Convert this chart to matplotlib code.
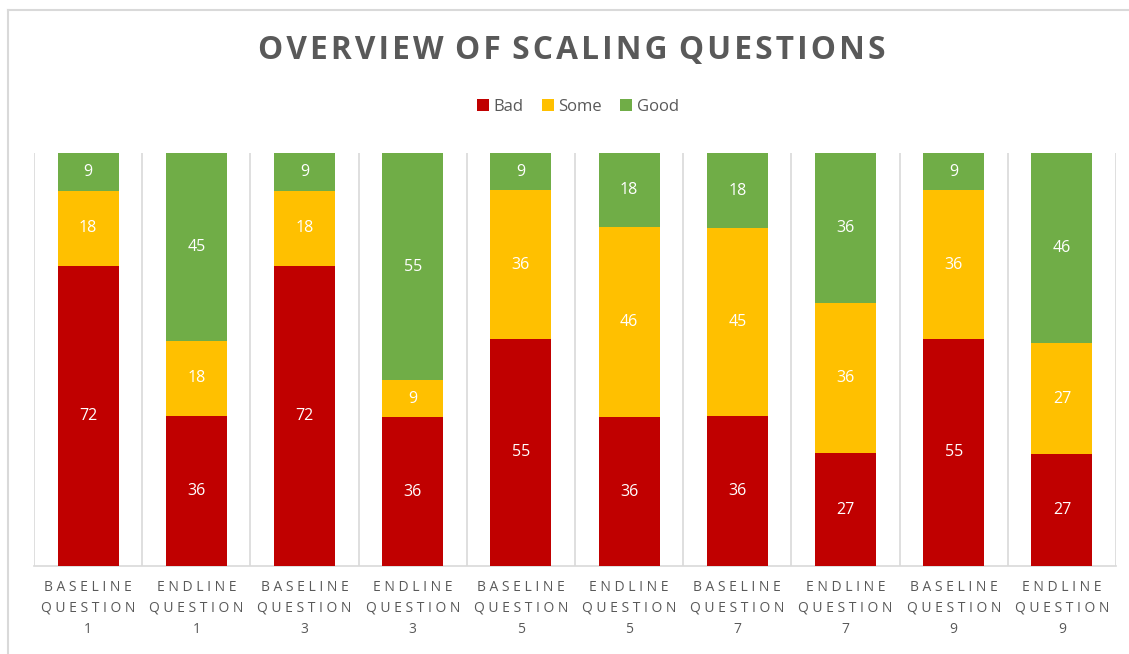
import numpy as np
import matplotlib.pyplot as plt
from matplotlib.lines import Line2D

# data
groups = ["BASELINE", "ENDLINE"] * 5
questions = ["1", "1", "3", "3", "5", "5", "7", "7", "9", "9"]
bad = [72, 36, 72, 36, 55, 36, 36, 27, 55, 27]
some = [18, 18, 18, 9, 36, 46, 45, 36, 36, 27]
good = [9, 45, 9, 55, 9, 18, 18, 36, 9, 46]
title = "OVERVIEW OF SCALING QUESTIONS"

series = [("Bad", bad, "#C00000"), ("Some", some, "#FFC000"), ("Good", good, "#70AD47")]
grey = "#595959"
font = "Open Sans"

def spaced(s, sep=" "):
    return sep.join(s)

labels = [spaced(g) + "\n" + spaced("QUESTION") + "\n" + q for g, q in zip(groups, questions)]

fig = plt.figure(figsize=(11.29, 6.54), dpi=100)
ax = fig.add_axes([34 / 1129, 1 - 566 / 654, (1116 - 34) / 1129, (566 - 153) / 654])

x = np.arange(len(labels))
totals = np.array(bad) + np.array(some) + np.array(good)
bottom = np.zeros(len(labels))
for name, vals, col in series:
    h = np.array(vals) / totals
    bars = ax.bar(x, h, 0.565, bottom=bottom, color=col, label=name, zorder=3)
    for b, v in zip(bars, vals):
        ax.text(b.get_x() + b.get_width() / 2, b.get_y() + b.get_height() / 2, str(v),
                ha="center", va="center", color="white", fontsize=11.5, family=font, zorder=4)
    bottom += h

ax.set_xlim(-0.5, len(labels) - 0.5)
ax.set_ylim(0, 1)
ax.set_yticks([])
ax.set_xticks(x)
ax.set_xticklabels(labels, fontsize=10, color=grey, family=font, linespacing=1.55)
ax.set_xticks(np.arange(-0.5, len(labels)), minor=True)
ax.tick_params(axis="x", which="both", length=0, pad=10)
ax.grid(axis="x", which="minor", color="#D9D9D9", linewidth=1.2, zorder=0)
ax.grid(axis="x", which="major", visible=False)
for s in ["top", "left", "right"]:
    ax.spines[s].set_visible(False)
ax.spines["bottom"].set_color("#D9D9D9")
ax.spines["bottom"].set_linewidth(1.2)

title_txt = "\u200a ".join(spaced(w, "\u200a") for w in title.split(" "))
fig.text(572 / 1129, 1 - 51 / 654, title_txt, ha="center", va="center",
         fontsize=22.8, fontweight="bold", color=grey, family=[font, "DejaVu Sans"])
fig.legend(loc="center", bbox_to_anchor=(578 / 1129, 1 - 107 / 654), ncol=3, frameon=False,
           prop={"family": font, "size": 12}, labelcolor=grey, handlelength=0.7, handleheight=0.7,
           handletextpad=0.3, columnspacing=1.1)

# chart border (left and top edges visible in the crop)
fig.add_artist(Line2D([8 / 1129, 8 / 1129], [0, 1 - 10 / 654], color="#D9D9D9", linewidth=1.5))
fig.add_artist(Line2D([8 / 1129, 1], [1 - 10 / 654, 1 - 10 / 654], color="#D9D9D9", linewidth=1.5))

fig.savefig("out.png", dpi=100)
